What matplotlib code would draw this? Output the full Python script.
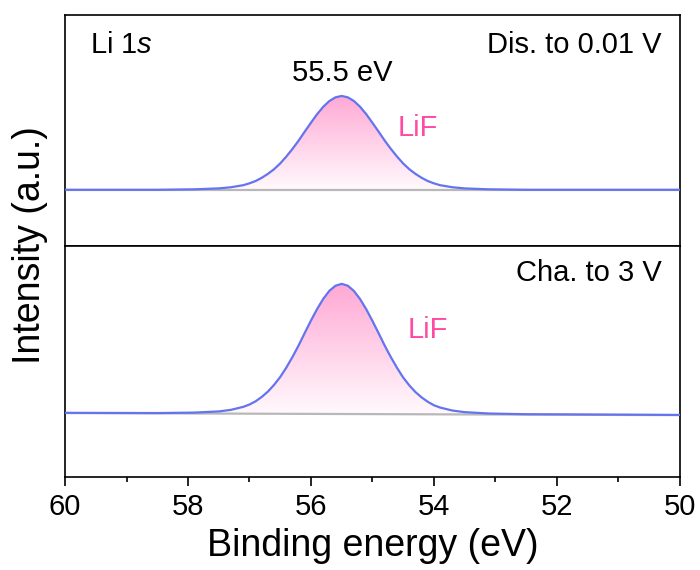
import numpy as np
import matplotlib
matplotlib.use("Agg")
import matplotlib.pyplot as plt
from matplotlib.patches import PathPatch
from matplotlib.colors import LinearSegmentedColormap

plt.rcParams['font.family'] = ['Liberation Sans', 'DejaVu Sans']
plt.rcParams['mathtext.fontset'] = 'custom'
plt.rcParams['mathtext.rm'] = 'Liberation Sans'
plt.rcParams['mathtext.it'] = 'Liberation Sans:italic'

# binding energy (eV)
energy = [60.0, 58.5, 57.9, 57.5, 57.3, 57.1, 57.0, 56.9, 56.8, 56.7, 56.6,
          56.5, 56.4, 56.3, 56.2, 56.1, 56.0, 55.9, 55.8, 55.7, 55.6, 55.5,
          55.4, 55.3, 55.2, 55.1, 55.0, 54.9, 54.8, 54.7, 54.6, 54.5, 54.4,
          54.3, 54.2, 54.1, 54.0, 53.9, 53.7, 53.5, 53.1, 52.5, 50.0]

# Dis. to 0.01 V
dis_int = [24.3, 24.3, 24.5, 24.9, 25.4, 26.3, 27.1, 28.1, 29.5, 31.2, 33.2,
           35.7, 38.7, 42.0, 45.6, 49.5, 53.3, 57.0, 60.2, 62.7, 64.3, 64.9,
           64.3, 62.7, 60.2, 57.0, 53.3, 49.5, 45.6, 42.0, 38.7, 35.7, 33.2,
           31.2, 29.5, 28.1, 27.1, 26.3, 25.4, 24.9, 24.5, 24.3, 24.3]
dis_bg = [24.2, 24.2]      # background at 60 and 50 eV

# Cha. to 3 V
cha_int = [27.8, 27.7, 27.9, 28.4, 29.1, 30.4, 31.4, 32.8, 34.7, 37.0, 39.9,
           43.3, 47.4, 52.0, 57.0, 62.4, 67.7, 72.7, 77.1, 80.6, 82.8, 83.6,
           82.8, 80.5, 77.0, 72.6, 67.6, 62.3, 56.9, 51.9, 47.3, 43.1, 39.7,
           36.8, 34.5, 32.6, 31.1, 30.1, 28.8, 28.1, 27.5, 27.2, 26.9]
cha_bg = [27.7, 26.8]

bg_energy = [60.0, 50.0]

line_col = '#6474ee'
lif_col = '#ff4aa5'
pink = LinearSegmentedColormap.from_list('pk', ['#fffafd', '#ffa8d4'])

fig, (ax1, ax2) = plt.subplots(2, 1, figsize=(7, 5.7), dpi=100, sharex=True)
fig.subplots_adjust(left=0.093, right=0.971, top=0.974, bottom=0.163, hspace=0)


def draw_panel(ax, inten, bg):
    e = np.array(energy)
    y = np.array(inten)
    b = np.interp(e[::-1], bg_energy[::-1], bg[::-1])[::-1]
    poly = ax.fill_between(e, b, y, facecolor='none', edgecolor='none')
    clip = PathPatch(poly.get_paths()[0], transform=ax.transData,
                     facecolor='none', edgecolor='none')
    ax.add_patch(clip)
    grad = np.linspace(0, 1, 256).reshape(-1, 1)
    im = ax.imshow(grad, cmap=pink, origin='lower', aspect='auto',
                   extent=[60, 50, min(b), max(y)], zorder=1)
    im.set_clip_path(clip)
    ax.plot(bg_energy, bg, color='#b8b8b8', lw=1.6, zorder=2)
    ax.plot(e, y, color=line_col, lw=1.6, zorder=3)
    ax.set_ylim(0, 100)
    ax.set_yticks([])
    for s in ax.spines.values():
        s.set_linewidth(1.2)


draw_panel(ax1, dis_int, dis_bg)
draw_panel(ax2, cha_int, cha_bg)

ax2.set_xlim(60, 50)
ax2.set_xticks([60, 58, 56, 54, 52, 50])
ax2.set_xticks([59, 57, 55, 53, 51], minor=True)
ax2.tick_params(axis='x', which='major', direction='out', length=6.5, width=1.2,
                labelsize=21, pad=5)
ax2.tick_params(axis='x', which='minor', direction='out', length=3.5, width=1.2)
ax1.tick_params(axis='x', which='both', bottom=False, top=False)

ax1.text(0.04, 0.87, 'Li 1$\\mathit{s}$', transform=ax1.transAxes, fontsize=21,
         ha='left', va='center')
ax1.text(0.971, 0.87, 'Dis. to 0.01 V', transform=ax1.transAxes, fontsize=21,
         ha='right', va='center')
ax1.text(0.451, 0.75, '55.5 eV', transform=ax1.transAxes, fontsize=21,
         ha='center', va='center')
ax1.text(54.26, 51.1, 'LiF', color=lif_col, fontsize=21, ha='center', va='center')
ax2.text(0.971, 0.883, 'Cha. to 3 V', transform=ax2.transAxes, fontsize=21,
         ha='right', va='center')
ax2.text(54.1, 63.6, 'LiF', color=lif_col, fontsize=21, ha='center', va='center')

ax2.set_xlabel('Binding energy (eV)', fontsize=27, labelpad=5)
fig.text(0.043, 0.57, 'Intensity (a.u.)', rotation=90, fontsize=27,
         ha='center', va='center')

fig.savefig('out.png', dpi=100)
